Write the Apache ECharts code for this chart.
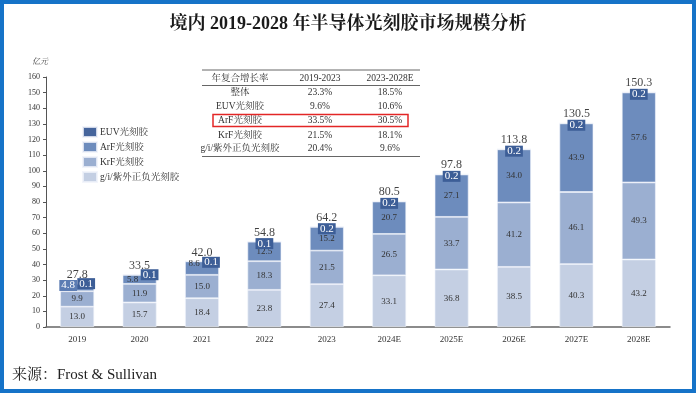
<!DOCTYPE html>
<html><head><meta charset="utf-8">
<script src="https://cdn.jsdelivr.net/npm/echarts@6/dist/echarts.min.js"></script>
<style>html,body{margin:0;padding:0;background:#fff}#c{width:696px;height:393px}</style>
</head><body><div id="c"></div>
<script>
const years = ['2019','2020','2021','2022','2023','2024E','2025E','2026E','2027E','2028E'];
const giVals  = [13.0,15.7,18.4,23.8,27.4,33.1,36.8,38.5,40.3,43.2];
const krfVals = [9.9,11.9,15.0,18.3,21.5,26.5,33.7,41.2,46.1,49.3];
const arfVals = [4.8,5.8,8.6,12.5,15.2,20.7,27.1,34.0,43.9,57.6];
const euvVals = [0.1,0.1,0.1,0.1,0.2,0.2,0.2,0.2,0.2,0.2];
const totals  = [27.8,33.5,42.0,54.8,64.2,80.5,97.8,113.8,130.5,150.3];
const seriesNames = ['EUV光刻胶','ArF光刻胶','KrF光刻胶','g/i/紫外正负光刻胶'];
const tableHeader = ['年复合增长率','2019-2023','2023-2028E'];
const tableRows = ['整体','EUV光刻胶','ArF光刻胶','KrF光刻胶','g/i/紫外正负光刻胶'];
const cagr1923 = ['23.3%','9.6%','33.5%','21.5%','20.4%'];
const cagr2328 = ['18.5%','10.6%','30.5%','18.1%','9.6%'];
const yTicks = {min:0,max:160,interval:10};

const SERIF = "'Liberation Serif','Noto Serif CJK SC','Noto Sans CJK SC',serif";
const colors = {euv:'#46659c', arf:'#6d8cbd', krf:'#9bafd1', gi:'#c4cfe3'};
const segLabel = {show:true, position:'inside', fontFamily:SERIF, fontSize:9, color:'#333'};
const fmt1 = v => v.toFixed(1);

const arfOffsets = [[-9,-2],[-7,0],[-8,-4]];
const euvOffsets = [[9,0],[10,0],[9,1]];

function mkSeg(vals){return vals.map(v=>({value:v}));}

const arfData = arfVals.map((v,i)=>{
  const d={value:v};
  if(i===0){d.label={offset:arfOffsets[i],color:'#fff',fontSize:11,backgroundColor:'#5b7cb3',padding:[0,2]};}
  else if(i<3){d.label={offset:arfOffsets[i]};}
  return d;
});
const euvData = euvVals.map((v,i)=>{
  const d={value:v,label:{offset:i<3?euvOffsets[i]:[0,2]}};
  return d;
});

const tableX = [240,320,390];
const rowY = [78,92,106,120.5,135,148.5];
const g = [];
g.push({type:'rect',shape:{x:2,y:2,width:692,height:389},style:{fill:'none',stroke:'#1673c8',lineWidth:4},silent:true});
[[70],[85.5],[156.5]].forEach(a=>g.push({type:'line',shape:{x1:202,y1:a[0],x2:420,y2:a[0]},style:{stroke:'#666',lineWidth:1}}));
tableHeader.forEach((t,j)=>g.push({type:'text',x:tableX[j],y:rowY[0],style:{text:t,fontFamily:SERIF,fontSize:9.5,fill:'#333',align:'center',verticalAlign:'middle'}}));
tableRows.forEach((t,i)=>{
  const y=rowY[i+1];
  [t,cagr1923[i],cagr2328[i]].forEach((s,j)=>g.push({type:'text',x:tableX[j],y:y,style:{text:s,fontFamily:SERIF,fontSize:9.5,fill:'#333',align:'center',verticalAlign:'middle'}}));
});
g.push({type:'rect',shape:{x:213,y:114.5,width:195,height:12},style:{fill:'none',stroke:'#e32626',lineWidth:1.5}});
g.push({type:'text',left:12,top:368,style:{text:'来源：Frost & Sullivan',fontFamily:SERIF,fontSize:15,fill:'#222'}});
g.push({type:'text',x:40,y:62,style:{text:'亿元',fontFamily:SERIF,fontSize:8,fill:'#444',align:'center',verticalAlign:'middle',fontStyle:'italic'}});

const barCommon = {type:'bar', stack:'s', barWidth:34, itemStyle:{borderColor:'rgba(240,243,250,0.8)',borderWidth:0.8}};

const option = {
  animation:false,
  title:{text:'境内 2019-2028 年半导体光刻胶市场规模分析',left:'center',top:10,
    textStyle:{fontFamily:SERIF,fontSize:18,fontWeight:'bold',color:'#1a1a1a'}},
  legend:{orient:'vertical',left:82,top:126,padding:0,itemWidth:14,itemHeight:10,itemGap:3,
    data:seriesNames,textStyle:{fontFamily:SERIF,fontSize:9.5,color:'#333',padding:[0,0,0,-2]},icon:'rect'},
  grid:{left:46,right:26,top:77,bottom:66},
  xAxis:{type:'category',data:years,
    axisLine:{lineStyle:{color:'#666',width:1.5}},axisTick:{show:false},
    axisLabel:{fontFamily:SERIF,fontSize:9,color:'#333',margin:8}},
  yAxis:{type:'value',min:yTicks.min,max:yTicks.max,interval:yTicks.interval,
    splitLine:{show:false},
    axisLine:{show:true,lineStyle:{color:'#555'}},
    axisTick:{show:true,length:3,lineStyle:{color:'#555'}},
    axisLabel:{fontFamily:SERIF,fontSize:8,color:'#333',margin:6}},
  series:[
    Object.assign({},barCommon,{name:seriesNames[3],data:mkSeg(giVals),itemStyle:Object.assign({},barCommon.itemStyle,{color:colors.gi}),label:Object.assign({},segLabel,{formatter:p=>fmt1(p.value)})}),
    Object.assign({},barCommon,{name:seriesNames[2],data:mkSeg(krfVals),itemStyle:Object.assign({},barCommon.itemStyle,{color:colors.krf}),label:Object.assign({},segLabel,{formatter:p=>fmt1(p.value)})}),
    Object.assign({},barCommon,{name:seriesNames[1],data:arfData,itemStyle:Object.assign({},barCommon.itemStyle,{color:colors.arf}),label:Object.assign({},segLabel,{formatter:p=>fmt1(p.value)})}),
    Object.assign({},barCommon,{name:seriesNames[0],data:euvData,itemStyle:Object.assign({},barCommon.itemStyle,{color:colors.euv}),
      label:{show:true,position:'inside',fontFamily:SERIF,fontSize:11,color:'#fff',backgroundColor:'#3d5e97',padding:[0,2],formatter:p=>fmt1(p.value)}}),
    {type:'scatter',data:totals.map((t,i)=>[i,t]),symbolSize:0,silent:true,
      label:{show:true,position:'top',distance:3,fontFamily:SERIF,fontSize:12,color:'#111',formatter:p=>fmt1(p.value[1])}}
  ],
  graphic:g
};
echarts.init(document.getElementById('c')).setOption(option);
</script></body></html>
